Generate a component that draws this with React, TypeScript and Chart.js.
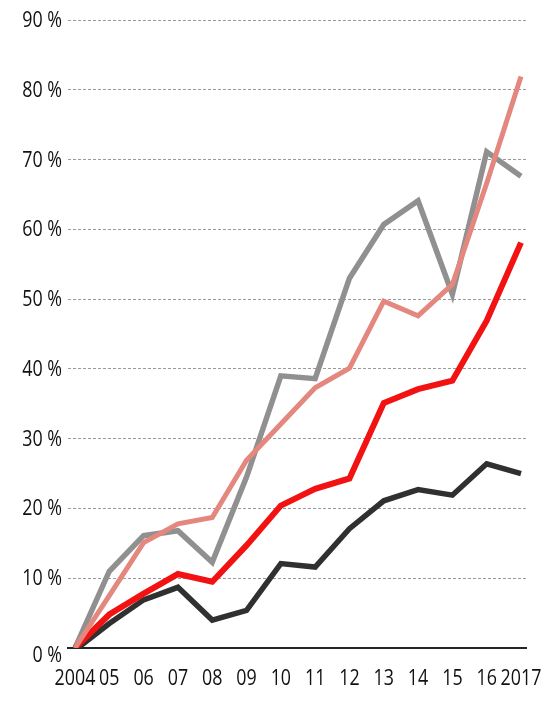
import React, { useEffect, useRef } from "react";
import { Chart, registerables } from "chart.js";

Chart.register(...registerables);

const years = ["2004", "05", "06", "07", "08", "09", "10", "11", "12", "13", "14", "15", "16", "2017"];
const yTicks = [0, 10, 20, 30, 40, 50, 60, 70, 80, 90];
const yTickLabels = ["0 %", "10 %", "20 %", "30 %", "40 %", "50 %", "60 %", "70 %", "80 %", "90 %"];

const grayValues = [0, 11, 16.1, 16.8, 12.3, 24.5, 39.0, 38.6, 53.0, 60.7, 64.1, 50.7, 71.1, 67.6];
const pinkValues = [0, 7.5, 15.1, 17.8, 18.7, 26.9, 32.1, 37.3, 40.1, 49.7, 47.6, 52.1, 66.6, 81.9];
const redValues = [0, 4.8, 7.8, 10.6, 9.5, 14.7, 20.4, 22.8, 24.3, 35.1, 37.1, 38.3, 46.9, 58.1];
const blackValues = [-0.3, 3.5, 6.9, 8.7, 4.0, 5.4, 12.1, 11.6, 17.1, 21.1, 22.7, 21.9, 26.4, 25.0];

const FONT = "21px 'Open Sans', 'DejaVu Sans', sans-serif";
const SQUEEZE = 0.85;
const TEXT_COLOR = "#111111";

const toPoints = (vals: number[]) => vals.map((v, i) => ({ x: i, y: v }));

// Draws the tick labels in a condensed face (horizontally squeezed text)
const condensedLabels = {
  id: "condensedLabels",
  afterDraw(chart: any) {
    const { ctx, scales } = chart;
    const xs = scales.x;
    const ys = scales.y;
    ctx.save();
    ctx.font = FONT;
    ctx.fillStyle = TEXT_COLOR;
    ctx.textBaseline = "middle";
    // y labels
    ctx.textAlign = "right";
    yTicks.forEach((v, i) => {
      const y = ys.getPixelForValue(v) + (v === 0 ? 8 : 1);
      ctx.save();
      ctx.translate(ys.right - 6, y);
      ctx.scale(SQUEEZE, 1);
      ctx.fillText(yTickLabels[i], 0, 0);
      ctx.restore();
    });
    // x labels
    ctx.textAlign = "center";
    years.forEach((lab, i) => {
      const x = xs.getPixelForValue(i);
      ctx.save();
      ctx.translate(x, xs.top + 31);
      ctx.scale(SQUEEZE, 1);
      ctx.fillText(lab, 0, 0);
      ctx.restore();
    });
    ctx.restore();
  },
};

export default function App() {
  const ref = useRef<HTMLCanvasElement | null>(null);

  useEffect(() => {
    if (!ref.current) return;
    const mk = (data: number[], color: string, width: number) => ({
      data: toPoints(data),
      borderColor: color,
      backgroundColor: color,
      borderWidth: width,
      pointRadius: 0,
      tension: 0,
      borderJoinStyle: "miter" as const,
      borderCapStyle: "butt" as const,
      fill: false,
    });
    const chart = new Chart(ref.current, {
      type: "line",
      data: {
        datasets: [
          mk(pinkValues, "#e3877f", 5),
          mk(redValues, "#f21212", 6),
          mk(grayValues, "#909090", 5.5),
          mk(blackValues, "#303030", 5.5),
        ],
      },
      options: {
        responsive: false,
        animation: false,
        events: [],
        layout: { padding: { left: 0, top: 20, right: 20, bottom: 0 } },
        plugins: { legend: { display: false }, tooltip: { enabled: false } },
        scales: {
          x: {
            type: "linear",
            min: -0.204,
            max: 13.146,
            grid: { display: false, drawTicks: false },
            border: { display: true, color: "#262626", width: 2 },
            afterBuildTicks: (scale: any) => {
              scale.ticks = years.map((_, i) => ({ value: i }));
            },
            afterFit: (scale: any) => {
              scale.height = 55;
              scale.paddingLeft = 0;
              scale.paddingRight = 0;
            },
            ticks: { display: false },
          },
          y: {
            type: "linear",
            min: 0,
            max: 90,
            afterBuildTicks: (scale: any) => {
              scale.ticks = yTicks.map((v) => ({ value: v }));
            },
            afterFit: (scale: any) => {
              scale.width = 68;
              scale.paddingTop = 0;
              scale.paddingBottom = 0;
            },
            grid: {
              drawTicks: false,
              color: (ctx: any) => (ctx.tick && ctx.tick.value === 0 ? "rgba(0,0,0,0)" : "#9a9a9a"),
              lineWidth: 1,
            },
            border: { display: false, dash: [3, 2] },
            ticks: { display: false },
          },
        },
      },
      plugins: [condensedLabels],
    });
    return () => chart.destroy();
  }, []);

  return (
    <div style={{ position: "absolute", left: 0, top: 0, width: 546, height: 703, background: "#fff" }}>
      <canvas ref={ref} width={546} height={703} style={{ display: "block" }} />
    </div>
  );
}
